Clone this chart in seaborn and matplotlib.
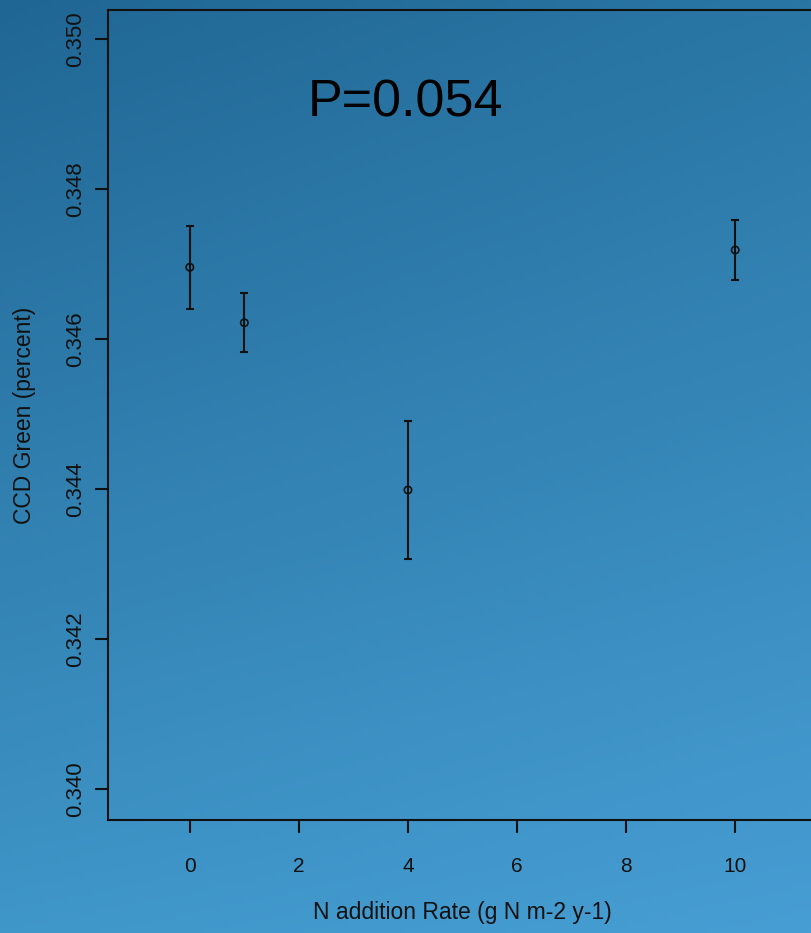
import numpy as np
import pandas as pd
import matplotlib
matplotlib.use("Agg")
import matplotlib.pyplot as plt
import seaborn as sns

# ---- data ----
n_rate = [0, 1, 4, 10]
ccd_green = [0.34696, 0.34622, 0.34399, 0.34719]
ccd_err = [0.00055, 0.00039, 0.00092, 0.00040]
x_ticks = [0, 2, 4, 6, 8, 10]
y_ticks = [0.340, 0.342, 0.344, 0.346, 0.348, 0.350]
y_tick_labels = ["0.340", "0.342", "0.344", "0.346", "0.348", "0.350"]
p_label = "P=0.054"
x_label = "N addition Rate (g N m-2 y-1)"
y_label = "CCD Green (percent)"

df = pd.DataFrame({"rate": n_rate, "green": ccd_green, "err": ccd_err})

sns.set_theme(style="white")
plt.rcParams["font.family"] = ["Liberation Sans", "DejaVu Sans"]

W, H = 811, 933
fig = plt.figure(figsize=(W / 100, H / 100), dpi=100)

# background gradient
bg = fig.add_axes([0, 0, 1, 1], zorder=-10)
tl = np.array([32, 102, 148]) / 255
tr = np.array([41, 118, 164]) / 255
bl = np.array([63, 150, 200]) / 255
br = np.array([71, 158, 212]) / 255
u = np.linspace(0, 1, 200)[None, :, None]
v = np.linspace(0, 1, 200)[:, None, None]
grad = (1 - v) * ((1 - u) * tl + u * tr) + v * ((1 - u) * bl + u * br)
bg.imshow(grad, aspect="auto", extent=[0, 1, 0, 1], origin="upper")
bg.axis("off")

left, right, top, bottom = 108, 817, 10, 820
ax = fig.add_axes([left / W, (H - bottom) / H, (right - left) / W, (bottom - top) / H])
ax.patch.set_alpha(0)

ink = "#111111"
ax.errorbar(df["rate"], df["green"], yerr=df["err"], fmt="none", ecolor=ink,
            elinewidth=1.5, capsize=2.6, capthick=1.5, zorder=2)
sns.scatterplot(data=df, x="rate", y="green", ax=ax, marker="o", s=28,
                facecolor="none", edgecolor=ink, linewidth=1.2, zorder=3)

ax.set_xlim(-1.5, 11.5)
ax.set_ylim(0.35039 - (810 / 75000), 0.35039)
ax.set_xticks(x_ticks)
ax.set_xticklabels([str(t) for t in x_ticks])
ax.set_yticks(y_ticks)
ax.set_yticklabels(y_tick_labels, rotation=90, va="center")

for s in ax.spines.values():
    s.set_color(ink)
    s.set_linewidth(1.5)
    s.set_visible(True)

ax.tick_params(axis="both", direction="out", color=ink, labelcolor=ink,
               width=1.5, length=9.5, left=True, bottom=True)
ax.tick_params(axis="x", pad=17, labelsize=15)
ax.tick_params(axis="y", pad=6, labelsize=16)

ax.set_xlabel("")
ax.set_ylabel("")
fig.text((left + right) / 2 / W, 1 - 913 / H, x_label, ha="center", va="center",
         fontsize=16.5, color=ink)
fig.text(25 / W, 1 - 415 / H, y_label, ha="center", va="center", rotation=90,
         fontsize=16.5, color=ink)

ax.text(3.95, 0.34915, p_label, ha="center", va="center", fontsize=37.5, color="black")

fig.savefig("out.png", dpi=100)
